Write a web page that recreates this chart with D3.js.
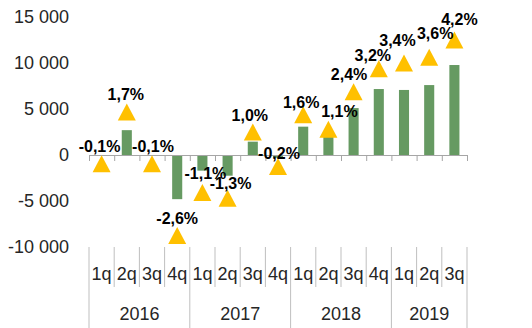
<!doctype html>
<html>
  <head>
    <meta charset="utf-8">
    <title>quarterly chart</title>
    <script src="https://cdn.jsdelivr.net/npm/d3@7"></script>
    <style>
      body { margin: 0; background: #fff; }
      text { font-family: "Liberation Sans", Arial, sans-serif; }
    </style>
  </head>
  <body>
  <script>

// data
const quarters = ["1q","2q","3q","4q","1q","2q","3q","4q","1q","2q","3q","4q","1q","2q","3q"];
const years = ["2016","2017","2018","2019"];
const quartersPerYear = [4, 4, 4, 3];
const barValues = [-100, 2700, -100, -4800, -1700, -2250, 1450, -300, 3080, 2000, 5100, 7170, 7070, 7600, 9780];
const growthPct = [-0.1, 1.7, -0.1, -2.6, -1.1, -1.3, 1.0, -0.2, 1.6, 1.1, 2.4, 3.2, 3.4, 3.6, 4.2];
const yTicks = [-10000, -5000, 0, 5000, 10000, 15000];

// hand nudges of the data labels (like the moved labels in the original)
const labelDx = [-2, -1, 1, 0, 3, 3, -3, 1, -2, 11, -4.5, -6, -6.5, 6, 5];
const labelDy = [0, -0.5, 0, 0, -1.5, 2.7, 0, 4, 5, -1, 0, 3.75, -6, -6.5, -4];

const w = 532;
const h = 328;
const plotLeft = 89, plotRight = 467, plotTop = 17, plotBottom = 247;

const loc = d3.formatLocale({decimal: ",", thousands: " ", grouping: [3], currency: ["", ""], minus: "-"});
const fmtNum = loc.format(",d");
const fmtPct = v => loc.format(".1f")(v) + "%";

const svg = d3.select("body")
  .append("svg")
  .attr("width", w)
  .attr("height", h);

const ids = d3.range(quarters.length);

const x = d3.scaleBand()
  .domain(ids)
  .range([plotLeft, plotRight]);

// boundaries between categories
const xb = d3.scaleLinear()
  .domain([0, quarters.length])
  .range([plotLeft, plotRight]);

const y = d3.scaleLinear()
  .domain([-10000, 15000])
  .range([plotBottom, plotTop]);

// hidden secondary axis for the percentages
const y2 = d3.scaleLinear()
  .domain([-3, 5])
  .range([plotBottom, plotTop]);

// y axis labels
const yAxis = svg.append("g")
  .attr("transform", `translate(${plotLeft},0)`)
  .call(d3.axisLeft(y).tickValues(yTicks).tickSize(0).tickPadding(20).tickFormat(fmtNum));
yAxis.select(".domain").remove();
yAxis.selectAll("text")
  .style("font-family", '"Liberation Sans", Arial, sans-serif')
  .style("font-size", "18px")
  .attr("fill", "#262626");

// bars
const barW = x.bandwidth() * 0.4;
svg.selectAll("rect.bar")
  .data(barValues)
  .enter()
  .append("rect")
  .attr("class", "bar")
  .attr("x", (d, i) => x(i) + (x.bandwidth() - barW) / 2)
  .attr("y", d => y(Math.max(0, d)))
  .attr("width", barW)
  .attr("height", d => Math.abs(y(d) - y(0)))
  .attr("fill", "#669a62");

// zero line with ticks on category boundaries
const zeroAxis = svg.append("g")
  .attr("transform", `translate(0,${y(0)})`)
  .call(d3.axisBottom(xb).tickValues(d3.range(quarters.length + 1)).tickSize(6).tickSizeOuter(0).tickFormat(""));
zeroAxis.select(".domain").attr("stroke", "#a6a6a6");
zeroAxis.selectAll(".tick line").attr("stroke", "#a6a6a6");

// category label lines
const yearStarts = [0];
quartersPerYear.forEach((n, i) => yearStarts.push(yearStarts[i] + n));

svg.selectAll("line.qline")
  .data(d3.range(quarters.length + 1))
  .enter()
  .append("line")
  .attr("class", "qline")
  .attr("x1", d => xb(d))
  .attr("x2", d => xb(d))
  .attr("y1", plotBottom)
  .attr("y2", d => yearStarts.includes(d) ? h : 287)
  .attr("stroke", "#bfbfbf");

svg.selectAll("text.q")
  .data(quarters)
  .enter()
  .append("text")
  .attr("class", "q")
  .attr("x", (d, i) => x(i) + x.bandwidth() / 2)
  .attr("y", 280)
  .attr("text-anchor", "middle")
  .style("font-size", "18px")
  .attr("fill", "#262626")
  .text(d => d);

svg.selectAll("text.yr")
  .data(years)
  .enter()
  .append("text")
  .attr("class", "yr")
  .attr("x", (d, i) => (xb(yearStarts[i]) + xb(yearStarts[i + 1])) / 2)
  .attr("y", 320)
  .attr("text-anchor", "middle")
  .style("font-size", "18px")
  .attr("fill", "#262626")
  .text(d => d);

// triangle markers
svg.selectAll("path.marker")
  .data(growthPct)
  .enter()
  .append("path")
  .attr("class", "marker")
  .attr("transform", (d, i) => `translate(${x(i) + x.bandwidth() / 2},${y2(d)})`)
  .attr("d", "M-9,8.5L0,-8.5L9,8.5Z")
  .attr("fill", "#ffc000");

// data labels
svg.selectAll("text.lbl")
  .data(growthPct)
  .enter()
  .append("text")
  .attr("class", "lbl")
  .attr("x", (d, i) => x(i) + x.bandwidth() / 2 + labelDx[i])
  .attr("y", (d, i) => y2(d) - 11.5 + labelDy[i])
  .attr("text-anchor", "middle")
  .style("font-size", "16px")
  .style("font-weight", "bold")
  .attr("fill", "#000")
  .text(d => fmtPct(d));

  </script>
  </body>
</html>
